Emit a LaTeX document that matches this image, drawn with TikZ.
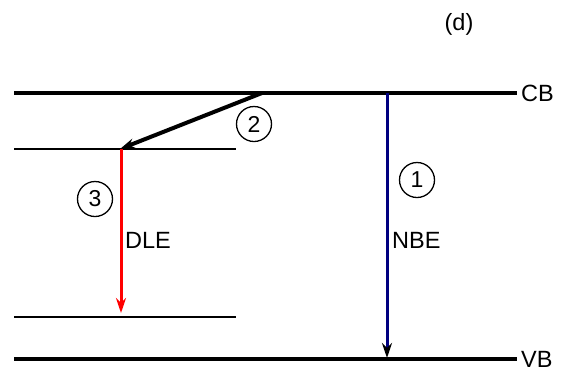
\documentclass[tikz,border=0pt]{standalone}
\usepackage{fontspec}
\setmainfont{Liberation Sans}
\usetikzlibrary{arrows.meta}
\definecolor{navyarrow}{RGB}{0,0,128}
\begin{document}
\begin{tikzpicture}[x=1pt,y=-1pt,
  band/.style={line width=4.2pt},
  level/.style={line width=2.2pt},
  lbl/.style={font=\fontsize{23.5}{26}\selectfont, inner sep=0pt},
  num/.style={circle, draw, line width=1.3pt, minimum size=35pt, inner sep=0pt, font=\fontsize{23}{26}\selectfont},
  tip/.style={-{Stealth[length=15pt,width=10pt]}}
]
\useasboundingbox (0,0) rectangle (568,373);
% band edges
\coordinate (cbL) at (14,93);
\coordinate (cbR) at (517,93);
\coordinate (vbL) at (14,359);
\coordinate (vbR) at (517,359);
\coordinate (d1L) at (14,149);
\coordinate (d1R) at (236,149);
\coordinate (d2L) at (14,317);
\coordinate (d2R) at (236,317);
\draw[band] (cbL) -- (cbR);
\draw[band] (vbL) -- (vbR);
\draw[level] (d1L) -- (d1R);
\draw[level] (d2L) -- (d2R);
\node[lbl, anchor=west] (cb) at (521,93) {CB};
\node[lbl, anchor=west] (vb) at (521,359) {VB};
% transitions
\coordinate (s2) at (262,93);
\coordinate (e2) at (120,149);
\draw[line width=4pt, tip] (s2) -- (e2);
\coordinate (s3) at (121,149);
\coordinate (e3) at (121,313);
\draw[red, line width=3pt, -{Stealth[length=15pt,width=10pt,red]}] (s3) -- (e3);
\coordinate (s1) at (387,93);
\coordinate (e1) at (387,358);
\draw[navyarrow, line width=3pt, -{Stealth[length=15pt,width=10pt,black]}] (s1) -- (e1);
% labels
\node[num] (n2) at (254,124) {2};
\node[num] (n3) at (95,199) {3};
\node[num] (n1) at (417,180) {1};
\node[lbl, anchor=west] (dle) at (125,240) {DLE};
\node[lbl, anchor=west] (nbe) at (392,240) {NBE};
\node[lbl] (d) at (459,24) {(d)};
\end{tikzpicture}
\end{document}
